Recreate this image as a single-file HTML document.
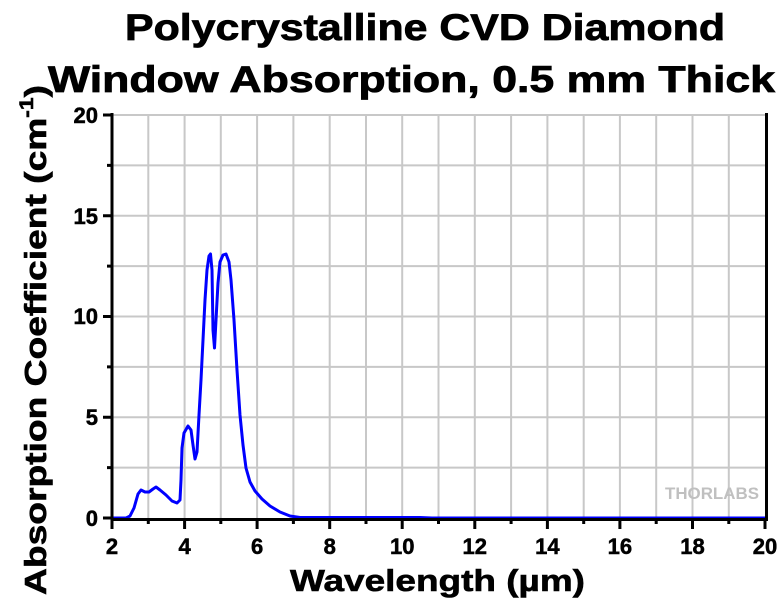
<!DOCTYPE html>
<html><head><style>
body{margin:0;background:#fff;width:780px;height:602px;overflow:hidden;font-family:"Liberation Sans",Arial,sans-serif;}
</style></head><body>
<svg width="780" height="602" xmlns="http://www.w3.org/2000/svg" font-family="Liberation Sans, Arial, sans-serif">
<text x="125" y="40" font-size="37" font-weight="bold" textLength="600" lengthAdjust="spacingAndGlyphs" stroke="#000" stroke-width="0.8">Polycrystalline CVD Diamond</text>
<text x="48" y="92" font-size="37" font-weight="bold" textLength="727" lengthAdjust="spacingAndGlyphs" stroke="#000" stroke-width="0.8">Window Absorption, 0.5 mm Thick</text>
<g stroke="#c8c8c8" stroke-width="2">
<path d="M148.3 115V518M184.6 115V518M220.8 115V518M257.1 115V518M293.4 115V518M329.7 115V518M366 115V518M402.2 115V518M438.5 115V518M474.8 115V518M511.1 115V518M547.4 115V518M583.7 115V518M619.9 115V518M656.2 115V518M692.5 115V518M728.8 115V518"/>
<path d="M112 467.6H765M112 417.3H765M112 366.9H765M112 316.5H765M112 266.1H765M112 215.8H765M112 165.4H765M112 115H765"/>
</g>
<text x="665" y="499" font-size="17" font-weight="bold" fill="#c0c0c0" textLength="94" lengthAdjust="spacingAndGlyphs">THORLABS</text>
<path fill="none" stroke="#0000ff" stroke-width="3" stroke-linejoin="round" d="M112 518 L126 518 L130 516 L134 508 L138 494 L141 490 L145 492 L149 492 L153 489 L156 487 L160 490 L166 495 L172 501 L177 503 L180 500 L181 480 L182 448 L184 433 L188 426 L191 430 L193 445 L195 459 L197 452 L199 415 L201 380 L203 340 L205 300 L207 270 L209 256 L210.5 254 L212 270 L213 330 L214.5 348 L216 320 L218 283 L220 262 L223 255 L226 254 L229 262 L231 280 L234 320 L237 370 L240 415 L243 445 L246 468 L250 482 L255 491 L262 499 L270 506 L280 512 L290 516 L300 517.5 L420 517.5 L432 518 L765 518"/>
<g stroke="#000" stroke-width="3" fill="none">
<path d="M112 113V519.5H766.5V113"/>
</g>
<g stroke="#000" stroke-width="3">
<path d="M112 518v11M184.6 518v11M257.1 518v11M329.7 518v11M402.2 518v11M474.8 518v11M547.4 518v11M619.9 518v11M692.5 518v11M765 518v11"/>
<path d="M148.3 518v6M220.8 518v6M293.4 518v6M366 518v6M438.5 518v6M511.1 518v6M583.7 518v6M656.2 518v6M728.8 518v6"/>
<path d="M112 518h-9M112 417.3h-9M112 316.5h-9M112 215.8h-9M112 115h-9"/>
<path d="M112 467.6h-5M112 366.9h-5M112 266.1h-5M112 165.4h-5"/>
</g>
<g font-size="22" font-weight="bold" text-anchor="middle" stroke="#000" stroke-width="0.5">
<text x="112" y="554">2</text><text x="184.6" y="554">4</text><text x="257.1" y="554">6</text><text x="329.7" y="554">8</text><text x="402.2" y="554">10</text><text x="474.8" y="554">12</text><text x="547.4" y="554">14</text><text x="619.9" y="554">16</text><text x="692.5" y="554">18</text><text x="765" y="554">20</text>
</g>
<g font-size="22" font-weight="bold" text-anchor="end" stroke="#000" stroke-width="0.5">
<text x="98" y="526">0</text><text x="98" y="425">5</text><text x="98" y="324">10</text><text x="98" y="224">15</text><text x="98" y="123">20</text>
</g>
<text x="290" y="591" font-size="31" font-weight="bold" textLength="295" lengthAdjust="spacingAndGlyphs" stroke="#000" stroke-width="0.6">Wavelength (µm)</text>
<text transform="translate(46,595) rotate(-90)" font-size="31" font-weight="bold" textLength="510" lengthAdjust="spacingAndGlyphs" stroke="#000" stroke-width="0.6">Absorption Coefficient (cm<tspan font-size="19" dy="-13">-1</tspan><tspan dy="13">)</tspan></text>
</svg>
</body></html>
